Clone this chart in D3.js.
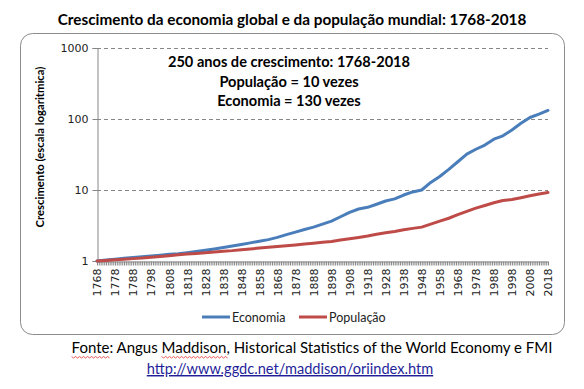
<!DOCTYPE html>
<html><head><meta charset="utf-8">
<script src="https://cdn.jsdelivr.net/npm/d3@7"></script>
<style>
body{margin:0;background:#fff;}
svg{display:block;}
</style></head>
<body>
<svg id="c" width="584" height="389"></svg>
<script>
const years = [1768,1773,1778,1783,1788,1793,1798,1803,1808,1813,1818,1823,1828,1833,1838,1843,1848,1853,1858,1863,1868,1873,1878,1883,1888,1893,1898,1903,1908,1913,1918,1923,1928,1933,1938,1943,1948,1953,1958,1963,1968,1973,1978,1983,1988,1993,1998,2003,2008,2013,2018];
const economia = [1.00,1.03,1.06,1.09,1.12,1.15,1.18,1.21,1.24,1.27,1.31,1.36,1.42,1.48,1.55,1.63,1.71,1.80,1.90,2.00,2.15,2.35,2.55,2.78,3.00,3.30,3.65,4.20,4.85,5.40,5.70,6.30,7.00,7.50,8.50,9.40,10.0,12.8,15.5,19.5,25.0,32.0,37.5,43.0,52.0,58.0,70.0,87.0,105.0,117.0,132.0];
const populacao = [1.00,1.02,1.04,1.06,1.08,1.10,1.13,1.16,1.19,1.22,1.25,1.28,1.31,1.34,1.37,1.40,1.44,1.48,1.52,1.56,1.60,1.64,1.68,1.73,1.78,1.83,1.88,1.97,2.06,2.15,2.25,2.38,2.50,2.60,2.75,2.88,3.00,3.30,3.65,4.00,4.50,5.00,5.55,6.05,6.60,7.10,7.35,7.80,8.30,8.80,9.25];
const yTicks = [1,10,100,1000];
const xLabelYears = d3.range(1768, 2019, 10);
const allYears = d3.range(1768, 2019, 1);
const title = "Crescimento da economia global e da população mundial: 1768-2018";
const yTitle = "Crescimento (escala logaritmica)";
const notes = ["250 anos de crescimento: 1768-2018","População = 10 vezes","Economia = 130 vezes"];
const seriesNames = ["Economia","População"];
const colors = ["#4a7ebb","#be4b48"];
const fonteParts = ["Fonte", ": Angus ", "Maddison", ", Historical Statistics of the World Economy e FMI"];
const url = "http://www.ggdc.net/maddison/oriindex.htm";

const svg = d3.select("#c");
const cal = "Lato, 'Open Sans', sans-serif";
const axf = "'DejaVu Sans', Verdana, sans-serif";

const L = 97, R = 548, T = 48, B = 261;
const x = d3.scaleLinear().domain([1768, 2018]).range([L, R]);
const y = d3.scaleLog().domain([1, 1000]).range([B, T]);

// title
svg.append("text").attr("x", 292).attr("y", 25).attr("text-anchor","middle")
  .attr("font-family", cal).attr("font-weight","bold").attr("font-size", 15.3)
  .attr("fill","#000").text(title);

// chart box
svg.append("rect").attr("x",20.5).attr("y",33.5).attr("width",544).attr("height",301)
  .attr("rx",12).attr("fill","none").attr("stroke","#8c8c8c").attr("stroke-width",1);

// gridlines
svg.append("g").selectAll("line").data(yTicks.filter(d=>d>1)).join("line")
  .attr("x1",L).attr("x2",R).attr("y1",d=>Math.round(y(d))+0.5).attr("y2",d=>Math.round(y(d))+0.5)
  .attr("stroke","#868686").attr("stroke-dasharray","4,3");

// y axis
const ya = svg.append("g").attr("transform",`translate(${L+0.5},0)`)
  .call(d3.axisLeft(y).tickValues(yTicks).tickFormat(d3.format("d")).tickSize(5).tickPadding(4));
ya.select(".domain").attr("stroke","#868686");
ya.selectAll(".tick line").attr("stroke","#868686");
ya.selectAll(".tick text").attr("font-family",axf).attr("font-size",11).attr("fill","#222");

// x axis with yearly minor ticks
const xa = svg.append("g").attr("transform",`translate(0,${B+0.5})`)
  .call(d3.axisBottom(x).tickValues(allYears).tickFormat("").tickSize(4).tickSizeOuter(0));
xa.select(".domain").attr("stroke","#868686");
xa.selectAll(".tick line").attr("stroke","#868686");
const xl = svg.append("g").attr("transform",`translate(0,${B+0.5})`)
  .call(d3.axisBottom(x).tickValues(xLabelYears).tickFormat(d3.format("d")).tickSize(0).tickPadding(0));
xl.select(".domain").remove();
xl.selectAll(".tick text").attr("font-family",axf).attr("font-size",11).attr("fill","#222")
  .attr("transform","rotate(-90)").attr("text-anchor","end").attr("dy","0.35em").attr("x",-7).attr("y",0);

// y title
svg.append("text").attr("transform","translate(44,147) rotate(-90)").attr("text-anchor","middle")
  .attr("font-family",cal).attr("font-weight","bold").attr("font-size",11.3).attr("fill","#000").text(yTitle);

// lines
const line = d3.line().x((d,i)=>x(years[i])).y(d=>y(d));
[economia, populacao].forEach((s,k)=>{
  svg.append("path").datum(s).attr("d",line).attr("fill","none")
    .attr("stroke",colors[k]).attr("stroke-width",3).attr("stroke-linejoin","round").attr("stroke-linecap","round");
});

// notes
notes.forEach((t,i)=>{
  svg.append("text").attr("x",289).attr("y",67+i*19.5).attr("text-anchor","middle")
    .attr("font-family",cal).attr("font-weight","bold").attr("font-size",14.6).attr("fill","#000").text(t);
});

// legend
const legX = [202, 299];
seriesNames.forEach((n,k)=>{
  svg.append("line").attr("x1",legX[k]).attr("x2",legX[k]+28).attr("y1",317).attr("y2",317)
    .attr("stroke",colors[k]).attr("stroke-width",3);
  svg.append("text").attr("x",legX[k]+30).attr("y",321.5).attr("font-family",cal).attr("font-size",12.5)
    .attr("fill","#222").text(n);
});

// footer
const ft = svg.append("text").attr("x",312).attr("y",353).attr("text-anchor","middle").attr("font-family",cal)
  .attr("font-size",15).attr("fill","#000");
const spans = fonteParts.map(p => ft.append("tspan").text(p));
// spell-check squiggles under "Fonte" and "Maddison"
[0,2].forEach(i=>{
  const bb = spans[i].node().getBBox();
  const yy = 356.5;
  let d = `M${bb.x},${yy}`;
  for (let xx = bb.x, k = 0; xx < bb.x + bb.width; xx += 2, k++) {
    d += `L${xx+2},${yy + (k%2===0 ? 1.5 : 0)}`;
  }
  svg.append("path").attr("d",d).attr("fill","none").attr("stroke","#e03030").attr("stroke-width",0.8);
});
svg.append("text").attr("x",290).attr("y",374).attr("text-anchor","middle").attr("font-family",cal)
  .attr("font-size",14.6).attr("fill","#1f1f99").attr("text-decoration","underline").text(url);
</script>
</body></html>
